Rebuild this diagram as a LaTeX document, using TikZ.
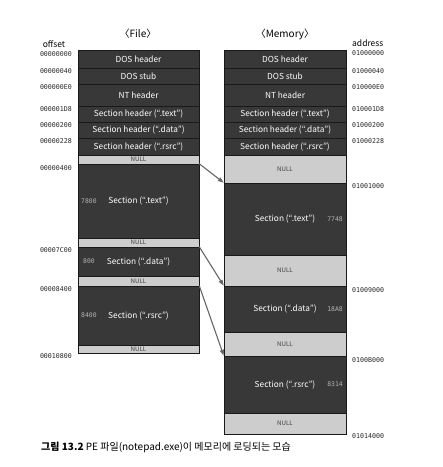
\documentclass[tikz,border=0pt]{standalone}
\usepackage{fontspec}
\setmainfont{Noto Sans CJK KR}
\newfontfamily\hexfont{DejaVu Sans Mono}
\usetikzlibrary{arrows.meta}

\definecolor{blkfill}{HTML}{383838}
\definecolor{nullfill}{HTML}{CDCDCD}

\tikzset{
  blk/.style={draw=black!90, fill=blkfill, text=white, inner sep=0pt, line width=0.5pt, font=\fontsize{8.3}{9}\selectfont},
  nullblk/.style={draw=black!90, fill=nullfill, text=black!75, inner sep=0pt, line width=0.5pt, font=\fontsize{6.2}{6.5}\selectfont},
  hexlbl/.style={font=\hexfont\fontsize{6.6}{7}\selectfont, text=black!85, inner sep=0pt},
  sizelbl/.style={font=\hexfont\fontsize{6.4}{7}\selectfont, text=black!30, inner sep=0pt},
  headlbl/.style={font=\fontsize{10}{11}\selectfont, inner sep=0pt},
  loadarr/.style={-{Triangle[length=6pt,width=4pt]}, draw=black!60, line width=1.1pt},
}

\begin{document}
\begin{tikzpicture}[x=1pt,y=-1pt]
\useasboundingbox (0,0) rectangle (443,467);

% titles
\node[headlbl] (tfile) at (138,34) {〈File〉};
\node[headlbl] (tmem) at (285,34) {〈Memory〉};
\node[headlbl, font=\fontsize{8.5}{9}\selectfont] (toff) at (54,44) {offset};
\node[headlbl, font=\fontsize{8.5}{9}\selectfont, anchor=west] (taddr) at (352,43) {address};

% file layout
\node[blk, minimum width=121pt, minimum height=18pt] (fdos) at (138.5,59) {DOS header};
\node[blk, minimum width=121pt, minimum height=16pt] (fstub) at (138.5,76) {DOS stub};
\node[blk, minimum width=121pt, minimum height=22pt] (fnt) at (138.5,95) {NT header};
\node[blk, minimum width=121pt, minimum height=16pt] (fhtext) at (138.5,114) {Section header (“.text”)};
\node[blk, minimum width=121pt, minimum height=16pt] (fhdata) at (138.5,130) {Section header (“.data”)};
\node[blk, minimum width=121pt, minimum height=17pt] (fhrsrc) at (138.5,146.5) {Section header (“.rsrc”)};
\node[nullblk, minimum width=121pt, minimum height=9pt] (fnull0) at (138.5,159.5) {NULL};
\node[blk, minimum width=121pt, minimum height=74pt] (ftext) at (138.5,201) {Section (“.text”)};
\node[nullblk, minimum width=121pt, minimum height=9pt] (fnull1) at (138.5,242.5) {NULL};
\node[blk, minimum width=121pt, minimum height=29pt] (fdata) at (138.5,261.5) {Section (“.data”)};
\node[nullblk, minimum width=121pt, minimum height=10pt] (fnull2) at (138.5,281) {NULL};
\node[blk, minimum width=121pt, minimum height=59pt] (frsrc) at (138.5,315.5) {Section (“.rsrc”)};
\node[nullblk, minimum width=121pt, minimum height=8pt] (fnull3) at (138.5,349) {NULL};

\node[sizelbl, anchor=west] (fsztext) at (81,201) {7800};
\node[sizelbl, anchor=west] (fszdata) at (83,261.5) {800};
\node[sizelbl, anchor=west] (fszrsrc) at (81,315.5) {8400};

% memory layout
\node[blk, minimum width=122pt, minimum height=18pt] (mdos) at (285,59) {DOS header};
\node[blk, minimum width=122pt, minimum height=16pt] (mstub) at (285,76) {DOS stub};
\node[blk, minimum width=122pt, minimum height=22pt] (mnt) at (285,95) {NT header};
\node[blk, minimum width=122pt, minimum height=16pt] (mhtext) at (285,114) {Section header (“.text”)};
\node[blk, minimum width=122pt, minimum height=16pt] (mhdata) at (285,130) {Section header (“.data”)};
\node[blk, minimum width=122pt, minimum height=17pt] (mhrsrc) at (285,146.5) {Section header (“.rsrc”)};
\node[nullblk, minimum width=122pt, minimum height=28pt] (mnull0) at (285,169) {NULL};
\node[blk, minimum width=122pt, minimum height=72pt] (mtext) at (285,219) {Section (“.text”)};
\node[nullblk, minimum width=122pt, minimum height=31pt] (mnull1) at (285,270.5) {NULL};
\node[blk, minimum width=122pt, minimum height=46pt] (mdata) at (285,309) {Section (“.data”)};
\node[nullblk, minimum width=122pt, minimum height=24pt] (mnull2) at (285,344) {NULL};
\node[blk, minimum width=122pt, minimum height=57pt] (mrsrc) at (285,384.5) {Section (“.rsrc”)};
\node[nullblk, minimum width=122pt, minimum height=21pt] (mnull3) at (285,423.5) {NULL};

\node[sizelbl, anchor=east] (msztext) at (343,219) {7748};
\node[sizelbl, anchor=east] (mszdata) at (343,309) {18A8};
\node[sizelbl, anchor=east] (mszrsrc) at (343,384.5) {8314};

% offsets
\node[hexlbl, anchor=east] (o0) at (72,54) {00000000};
\node[hexlbl, anchor=east] (o1) at (72,71.5) {00000040};
\node[hexlbl, anchor=east] (o2) at (72,87.5) {000000E0};
\node[hexlbl, anchor=east] (o3) at (72,109) {000001D8};
\node[hexlbl, anchor=east] (o4) at (72,125) {00000200};
\node[hexlbl, anchor=east] (o5) at (72,141.5) {00000228};
\node[hexlbl, anchor=east] (o6) at (72,168.5) {00000400};
\node[hexlbl, anchor=east] (o7) at (72,250.5) {00007C00};
\node[hexlbl, anchor=east] (o8) at (72,289.5) {00008400};
\node[hexlbl, anchor=east] (o9) at (72,356.5) {00010800};

% addresses
\node[hexlbl, anchor=west] (a0) at (352,53) {01000000};
\node[hexlbl, anchor=west] (a1) at (352,71) {01000040};
\node[hexlbl, anchor=west] (a2) at (352,87) {010000E0};
\node[hexlbl, anchor=west] (a3) at (352,109) {010001D8};
\node[hexlbl, anchor=west] (a4) at (352,125) {01000200};
\node[hexlbl, anchor=west] (a5) at (352,141) {01000228};
\node[hexlbl, anchor=west] (a6) at (352,186) {01001000};
\node[hexlbl, anchor=west] (a7) at (352,290) {01009000};
\node[hexlbl, anchor=west] (a8) at (352,360) {0100B000};
\node[hexlbl, anchor=west] (a9) at (352,436.5) {01014000};

% loading
\draw[loadarr] (ftext.north east) -- (mtext.north west);
\draw[loadarr] (fdata.north east) -- (mdata.north west);
\draw[loadarr] (frsrc.north east) -- (mrsrc.north west);

% caption
\node[anchor=west, inner sep=0pt, font=\fontsize{10}{11}\selectfont] (cap) at (41,447) {\textbf{그림 13.2} PE 파일(notepad.exe)이 메모리에 로딩되는 모습};
\end{tikzpicture}
\end{document}
